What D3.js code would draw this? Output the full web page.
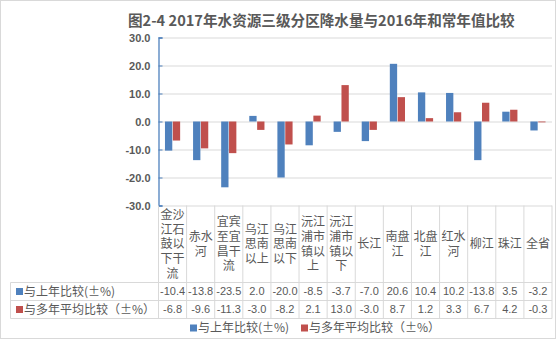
<!DOCTYPE html>
<html><head><meta charset="utf-8">
<script src="https://cdn.jsdelivr.net/npm/d3@7"></script>
<style>
html,body{margin:0;padding:0;background:#fff;}
svg{display:block;}
</style></head>
<body>
<svg id="c" width="557" height="341"></svg>
<script>
const title = "图2-4 2017年水资源三级分区降水量与2016年和常年值比较";
const categories = ["金沙江石鼓以下干流","赤水河","宜宾至宜昌干流","乌江思南以上","乌江思南以下","沅江浦市镇以上","沅江浦市镇以下","长江","南盘江","北盘江","红水河","柳江","珠江","全省"];
const seriesNames = ["与上年比较(±%)","与多年平均比较（±%）"];
const vsLastYear = [-10.4,-13.8,-23.5,2.0,-20.0,-8.5,-3.7,-7.0,20.6,10.4,10.2,-13.8,3.5,-3.2];
const vsAverage = [-6.8,-9.6,-11.3,-3.0,-8.2,2.1,13.0,-3.0,8.7,1.2,3.3,6.7,4.2,-0.3];
const yTicks = [-30,-20,-10,0,10,20,30];
const colors = ["#4F81BD","#C0504D"];

const series = [vsLastYear, vsAverage];
const svg = d3.select("#c");
const cjk = "'Noto Sans CJK SC','Microsoft YaHei',sans-serif";
const mixed = "'Liberation Sans','Noto Sans CJK SC',sans-serif";
const textCol = "#595959";
const gridCol = "#D9D9D9";

// chart border
svg.append("rect").attr("x",0.5).attr("y",0.5).attr("width",555).attr("height",338)
  .attr("fill","#fff").attr("stroke",gridCol);

const x0 = 158.5, x1r = 552, yTop = 37.5, yBot = 205.5;
const x = d3.scaleBand().domain(categories).range([x0, x1r]).padding(0);
const y = d3.scaleLinear().domain([-30,30]).range([yBot, yTop]);
const bw = x.bandwidth();
const xs = d3.scaleBand().domain([0,1]).range([bw*0.23, bw*0.77]).paddingInner(0.07);

// title
svg.append("text").attr("x",128).attr("y",26).attr("font-family",cjk)
  .attr("font-weight","bold").attr("font-size",14.6).attr("fill",textCol).text(title);

// gridlines
const grid = svg.append("g").attr("transform",`translate(${x0},0)`)
  .call(d3.axisLeft(y).tickValues(yTicks).tickSize(-(x1r-x0)).tickFormat(""));
grid.select(".domain").remove();
grid.selectAll("line").attr("stroke",gridCol).attr("stroke-width",1);

// bars
series.forEach((vals,si)=>{
  svg.append("g").selectAll("rect").data(vals).join("rect")
    .attr("x",(d,i)=>x(categories[i])+xs(si))
    .attr("width",xs.bandwidth())
    .attr("y",d=>y(Math.max(0,d)))
    .attr("height",d=>Math.abs(y(d)-y(0)))
    .attr("fill",colors[si]);
});

// y axis
const ya = svg.append("g").attr("transform",`translate(${x0},0)`)
  .call(d3.axisLeft(y).tickValues(yTicks).tickSize(-4).tickPadding(8).tickFormat(d=>d.toFixed(1)));
ya.select(".domain").attr("stroke","#4F81BD").attr("stroke-width",1.3);
ya.selectAll("line").attr("stroke","#4F81BD");
ya.selectAll("text").attr("font-family","'Liberation Sans',Arial,sans-serif").attr("font-size",11)
  .attr("font-weight","bold").attr("fill",textCol);

// table
const tLeft = 10.5, r1 = 282.5, r2 = 300.5, r3 = 318.5;
const tg = svg.append("g").attr("stroke",gridCol).attr("stroke-width",1);
[r1,r2,r3].forEach(yy=>tg.append("line").attr("x1",tLeft).attr("x2",x1r).attr("y1",yy).attr("y2",yy));
tg.append("line").attr("x1",tLeft).attr("x2",tLeft).attr("y1",r1).attr("y2",r3);
categories.concat([null]).forEach((c,i)=>{
  const xx = i<categories.length ? x(c) : x1r;
  tg.append("line").attr("x1",xx).attr("x2",xx).attr("y1",yBot).attr("y2",r3);
});

// category labels
categories.forEach(c=>{
  const lines = [];
  for(let i=0;i<c.length;i+=2) lines.push(c.slice(i,i+2));
  const lh = 14.7;
  const cy = (yBot+r1)/2;
  const start = cy - (lines.length-1)*lh/2;
  lines.forEach((l,k)=>svg.append("text").attr("font-family",mixed).attr("font-size",12).attr("fill",textCol)
    .attr("text-anchor","middle").attr("x",x(c)+bw/2).attr("y",start+k*lh).attr("dy","0.35em").text(l));
});

// row labels + values
[[r1,r2],[r2,r3]].forEach(([a,b],si)=>{
  const cy=(a+b)/2;
  svg.append("rect").attr("x",16).attr("y",cy-3.5).attr("width",7).attr("height",7).attr("fill",colors[si]);
  svg.append("text").attr("x",24).attr("y",cy).attr("dy","0.35em").attr("font-family",cjk)
    .attr("font-size",12).attr("fill",textCol).text(seriesNames[si]);
  svg.append("g").selectAll("text").data(series[si]).join("text")
    .attr("x",(d,i)=>x(categories[i])+bw/2).attr("y",cy).attr("dy","0.35em")
    .attr("text-anchor","middle").attr("font-family","'Liberation Sans',Arial,sans-serif").attr("font-size",11).attr("fill",textCol)
    .text(d=>d.toFixed(1));
});

// legend
const ly = 328;
const leg = [[190,seriesNames[0]],[301,seriesNames[1]]];
leg.forEach(([lx,name],si)=>{
  svg.append("rect").attr("x",lx).attr("y",ly-3.5).attr("width",7).attr("height",7).attr("fill",colors[si]);
  svg.append("text").attr("x",lx+8).attr("y",ly).attr("dy","0.35em").attr("font-family",cjk)
    .attr("font-size",12).attr("fill",textCol).text(name);
});
</script>
</body></html>
